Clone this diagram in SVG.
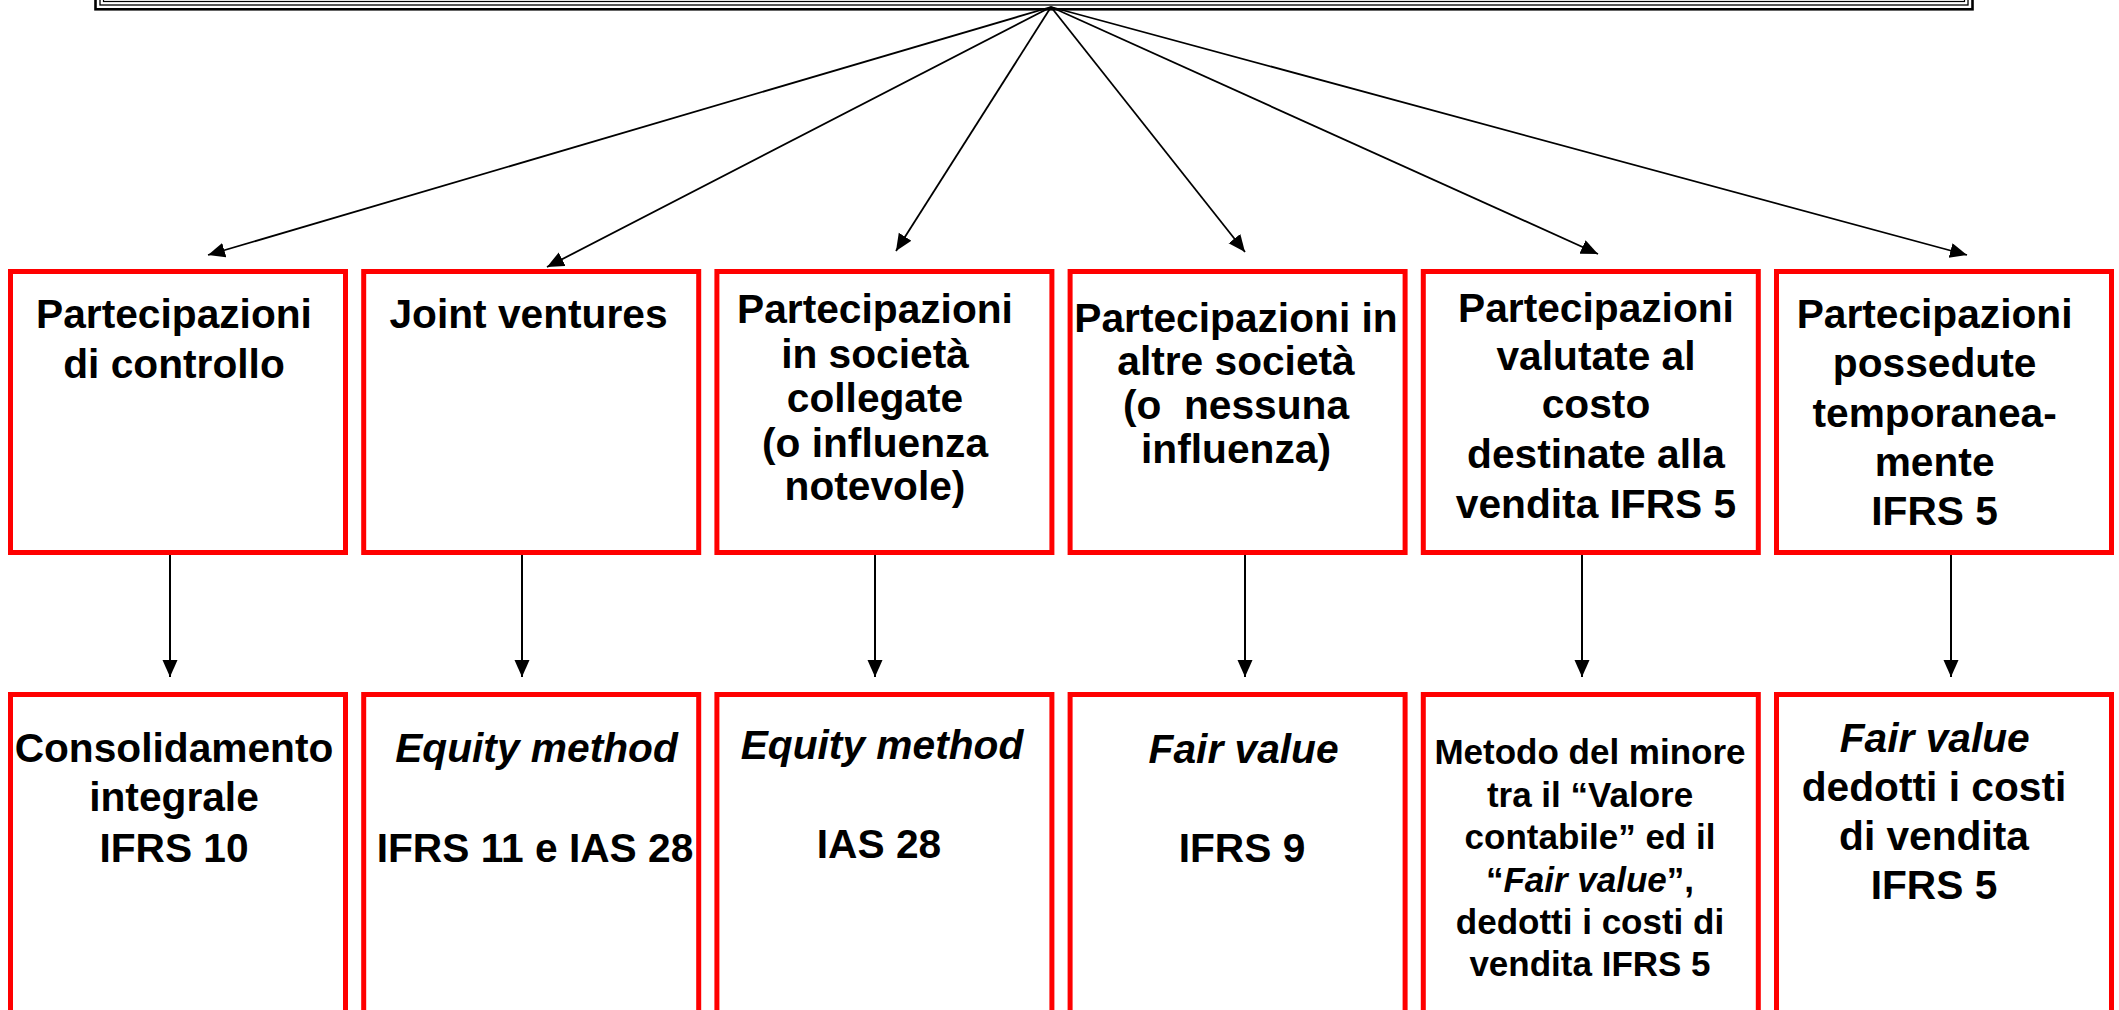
<svg xmlns="http://www.w3.org/2000/svg" width="2119" height="1010" viewBox="0 0 2119 1010">
  <defs>
    <marker id="head" markerUnits="userSpaceOnUse" markerWidth="18" markerHeight="16" refX="17" refY="7.5" orient="auto">
      <path d="M0,0 L17,7.5 L0,15 z" fill="#000"/>
    </marker>
    <style>
      .box { fill: #fff; stroke: #ff0000; stroke-width: 5; }
      .frame { fill: none; stroke: #000; }
      .conn { stroke: #000; stroke-width: 1.8; fill: none; marker-end: url(#head); }
      .vconn { stroke: #000; stroke-width: 2; fill: none; marker-end: url(#head); }
      text { font-family: "Liberation Sans", Arial, sans-serif; font-weight: bold; fill: #000; text-anchor: middle; }
      .t { font-size: 40.7px; }
      .s { font-size: 35px; }
      .it { font-style: italic; }
    </style>
  </defs>
  <rect width="2119" height="1010" fill="#fff"/>

  <!-- title frame, only its lower edge is in view -->
  <g id="title">
    <rect class="frame" x="95.5" y="-60" width="1877" height="69.3" stroke-width="2.6"/>
    <rect class="frame" x="100" y="-60" width="1868" height="65" stroke-width="1.3"/>
    <rect class="frame" x="103.5" y="-60" width="1861" height="61.5" stroke-width="1.2"/>
  </g>

  <!-- connectors -->
  <g id="connectors">
    <line class="conn" x1="1051" y1="7" x2="208" y2="255"/>
    <line class="conn" x1="1051" y1="7" x2="547" y2="267"/>
    <line class="conn" x1="1051" y1="7" x2="896" y2="251"/>
    <line class="conn" x1="1051" y1="7" x2="1245" y2="252"/>
    <line class="conn" x1="1051" y1="7" x2="1598" y2="254"/>
    <line class="conn" x1="1051" y1="7" x2="1967" y2="255"/>
    <line class="vconn" x1="170" y1="553" x2="170" y2="677"/>
    <line class="vconn" x1="522" y1="553" x2="522" y2="677"/>
    <line class="vconn" x1="875" y1="553" x2="875" y2="677"/>
    <line class="vconn" x1="1245" y1="553" x2="1245" y2="677"/>
    <line class="vconn" x1="1582" y1="553" x2="1582" y2="677"/>
    <line class="vconn" x1="1951" y1="553" x2="1951" y2="677"/>
  </g>

  <!-- upper row: kinds of holding -->
  <g id="controllo">
    <rect class="box" x="10.5" y="271.5" width="335" height="281"/>
    <text class="t" x="174" y="328">Partecipazioni</text>
    <text class="t" x="174" y="378">di controllo</text>
  </g>
  <g id="joint">
    <rect class="box" x="363.7" y="271.5" width="335" height="281"/>
    <text class="t" x="528.5" y="328">Joint ventures</text>
  </g>
  <g id="collegate">
    <rect class="box" x="716.9" y="271.5" width="335" height="281"/>
    <text class="t" x="875" y="323.3">Partecipazioni</text>
    <text class="t" x="875" y="368">in società</text>
    <text class="t" x="875" y="412">collegate</text>
    <text class="t" x="875" y="456.5">(o influenza</text>
    <text class="t" x="875" y="500">notevole)</text>
  </g>
  <g id="altre">
    <rect class="box" x="1070.1" y="271.5" width="335" height="281"/>
    <text class="t" x="1236" y="331.7">Partecipazioni in</text>
    <text class="t" x="1236" y="375">altre società</text>
    <text class="t" x="1236" y="419.3" xml:space="preserve">(o  nessuna</text>
    <text class="t" x="1236" y="463.3">influenza)</text>
  </g>
  <g id="costo">
    <rect class="box" x="1423.3" y="271.5" width="335" height="281"/>
    <text class="t" x="1596" y="321.7">Partecipazioni</text>
    <text class="t" x="1596" y="370">valutate al</text>
    <text class="t" x="1596" y="418.3">costo</text>
    <text class="t" x="1596" y="468.3">destinate alla</text>
    <text class="t" x="1596" y="518.3">vendita IFRS 5</text>
  </g>
  <g id="temporanee">
    <rect class="box" x="1776.5" y="271.5" width="335" height="281"/>
    <text class="t" x="1934.6" y="328.3">Partecipazioni</text>
    <text class="t" x="1934.6" y="377.3">possedute</text>
    <text class="t" x="1934.6" y="426.7">temporanea-</text>
    <text class="t" x="1934.6" y="476">mente</text>
    <text class="t" x="1934.6" y="525">IFRS 5</text>
  </g>

  <!-- lower row: accounting treatment -->
  <g id="consolidamento">
    <rect class="box" x="10.5" y="694.5" width="335" height="330"/>
    <text class="t" x="174" y="761.7">Consolidamento</text>
    <text class="t" x="174" y="810.7">integrale</text>
    <text class="t" x="174" y="861.7">IFRS 10</text>
  </g>
  <g id="equity-jv">
    <rect class="box" x="363.7" y="694.5" width="335" height="330"/>
    <text class="t it" x="536.5" y="761.7">Equity method</text>
    <text class="t" x="535" y="861.7">IFRS 11 e IAS 28</text>
  </g>
  <g id="equity-coll">
    <rect class="box" x="716.9" y="694.5" width="335" height="330"/>
    <text class="t it" x="882" y="759.3">Equity method</text>
    <text class="t" x="879" y="857.7">IAS 28</text>
  </g>
  <g id="fairvalue">
    <rect class="box" x="1070.1" y="694.5" width="335" height="330"/>
    <text class="t it" x="1243.6" y="762.7">Fair value</text>
    <text class="t" x="1242" y="861.7">IFRS 9</text>
  </g>
  <g id="minore">
    <rect class="box" x="1423.3" y="694.5" width="335" height="330"/>
    <text class="s" x="1590" y="764">Metodo del minore</text>
    <text class="s" x="1590" y="806.7">tra il “Valore</text>
    <text class="s" x="1590" y="849.3">contabile” ed il</text>
    <text class="s" x="1590" y="891.7">“<tspan class="it">Fair value</tspan>”,</text>
    <text class="s" x="1590" y="934">dedotti i costi di</text>
    <text class="s" x="1590" y="976">vendita IFRS 5</text>
  </g>
  <g id="fv-vendita">
    <rect class="box" x="1776.5" y="694.5" width="335" height="330"/>
    <text class="t it" x="1934.7" y="751.7">Fair value</text>
    <text class="t" x="1934" y="800.7">dedotti i costi</text>
    <text class="t" x="1934" y="850">di vendita</text>
    <text class="t" x="1934" y="899.3">IFRS 5</text>
  </g>
</svg>
